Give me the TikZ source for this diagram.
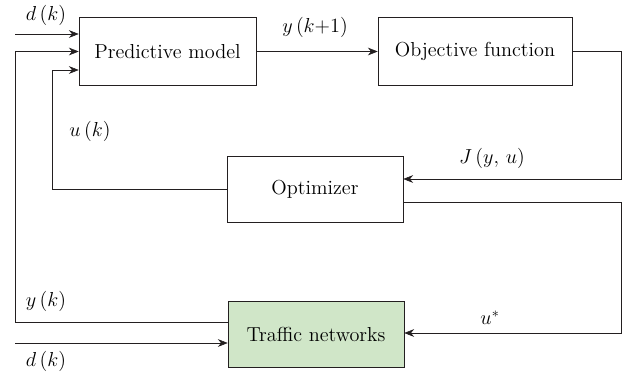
\documentclass[tikz,border=0pt]{standalone}
\usetikzlibrary{arrows.meta}
\definecolor{netgreen}{RGB}{208,230,200}
\definecolor{linegray}{RGB}{35,31,32}
\tikzset{
  block/.style={draw=linegray, thin, rectangle, minimum height=17mm, font=\fontsize{14.4}{17}\selectfont},
  flow/.style={draw=linegray, thin, -{Stealth[length=7pt,width=5.5pt]}},
  lbl/.style={font=\fontsize{14.4}{17}\selectfont}
}
\begin{document}
\begin{tikzpicture}[x=0.25mm, y=-0.25mm]
\useasboundingbox (0,0) rectangle (628,379);
%\draw [lightgray](0,0) grid (628,379);
\node [block, minimum width=44.25mm] (pred) at (167.5,51.5) {Predictive model};
\node [block, minimum width=48.5mm] (obj) at (475,51.5) {Objective function};
\node [block, minimum width=44mm, minimum height=16.5mm] (opt) at (315,189) {Optimizer};
\node [block, minimum width=44mm, minimum height=16.5mm, fill=netgreen] (net) at (316,334) {Traffic networks};

\coordinate (dtop) at (15,34);
\coordinate (ybus) at (15,51.5);
\coordinate (ubus) at (52,70);
\coordinate (jcor) at (621,51.5);
\coordinate (scor) at (621,202);
\coordinate (dbot) at (15,343);

% inputs of the model
\draw [flow] (dtop) -- (dtop -| pred.west);
\draw [flow] (net.west |- 0,322) -- (15,322) -- (ybus) -- (ybus -| pred.west);
\draw [flow] (opt.west) -- (ubus |- opt.west) -- (ubus) -- (ubus -| pred.west);

% prediction and cost
\draw [flow] (pred.east) -- (obj.west);
\draw [flow] (obj.east) -- (jcor) -- (jcor |- 0,179) -- (opt.east |- 0,179);

% control to the plant
\draw [flow] (opt.east |- scor) -- (scor) -- (scor |- 0,333) -- (net.east |- 0,333);
\draw [flow] (dbot) -- (dbot -| net.west);

\node [lbl] (ld1) at (46,15) {$d\,(k)$};
\node [lbl] (lyk1) at (315,27) {$y\,(k{+}1)$};
\node [lbl] (luk) at (90,131) {$u\,(k)$};
\node [lbl] (lj) at (492,158) {$J\,(y,\,u)$};
\node [lbl] (lyk) at (46,301) {$y\,(k)$};
\node [lbl] (lus) at (490,318) {$u^{*}$};
\node [lbl] (ld2) at (46,361) {$d\,(k)$};
\end{tikzpicture}
\end{document}
